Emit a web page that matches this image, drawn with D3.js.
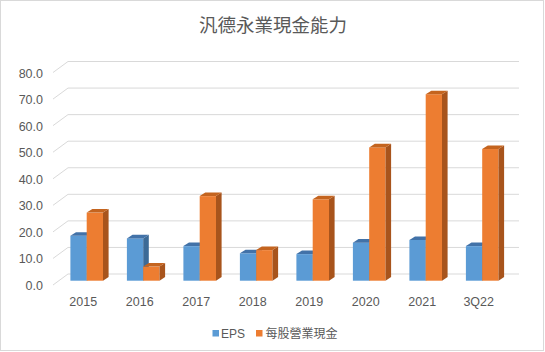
<!DOCTYPE html>
<html><head><meta charset="utf-8">
<script src="https://cdn.jsdelivr.net/npm/d3@7"></script>
<style>body{margin:0;background:#fff}svg{display:block}</style>
</head><body>
<svg id="c" width="545" height="352"></svg>
<script>
const categories = ["2015","2016","2017","2018","2019","2020","2021","3Q22"];
const seriesNames = ["EPS","每股營業現金"];
const eps = [16.9, 15.9, 13.0, 10.3, 10.0, 14.3, 15.3, 13.0];
const cashPerShare = [25.6, 5.3, 31.8, 11.5, 30.6, 50.1, 70.1, 49.5];
const yTicks = [0,10,20,30,40,50,60,70,80];

const colors = [
  {front:"#5B9BD5", top:"#4272A8", side:"#3C6A96"},
  {front:"#ED7D31", top:"#C4641F", side:"#A8541C"}
];
const font = "'Liberation Sans', Arial, sans-serif";
const cjk = "'Noto Sans CJK TC','Noto Sans CJK SC',sans-serif";

const svg = d3.select("#c");
svg.append("rect").attr("x",0.5).attr("y",0.5).attr("width",543).attr("height",350)
  .attr("fill","#fff").attr("stroke","#D9D9D9");

svg.append("text").attr("x",273).attr("y",32).attr("text-anchor","middle")
  .attr("font-family",cjk).attr("font-size",18.5).attr("fill","#595959").text("汎德永業現金能力");

// depth geometry
const wallLeft = 68, wallRight = 519, sideDx = -15, sideDy = 11;
const yBack = d3.scaleLinear().domain([0,80]).range([274,61.5]);
const yBar = d3.scaleLinear().domain([0,80]).range([280.7,280.7-212.8]);
const yLab = d3.scaleLinear().domain([0,80]).range([285,73.5]);

const g = svg.append("g");
yTicks.forEach(t=>{
  const yb = yBack(t);
  g.append("path").attr("d",`M${wallLeft+sideDx},${yb+sideDy}L${wallLeft},${yb}L${wallRight},${yb}`)
    .attr("fill","none").attr("stroke","#D9D9D9").attr("stroke-width",1);
  g.append("text").attr("x",43).attr("y",yLab(t)+4.5).attr("text-anchor","end")
    .attr("font-family",font).attr("font-size",12.5).attr("fill","#595959").text(t.toFixed(1));
});

const x0 = d3.scaleBand().domain(categories).range([58.45,510.45]);
const barW = 16.3;
const x1 = d3.scaleBand().domain(seriesNames).range([-barW, barW]);
const dx = 5.6, dy = -3.6;
const data = [eps, cashPerShare];

categories.forEach((c,i)=>{
  const cx = x0(c) + x0.bandwidth()/2;
  seriesNames.forEach((s,si)=>{
    const v = data[si][i];
    const x = cx + x1(s), w = x1.bandwidth();
    const yb = yBar(0), yt = yBar(v);
    const col = colors[si];
    g.append("rect").attr("x",x).attr("y",yt).attr("width",w).attr("height",yb-yt).attr("fill",col.front);
    g.append("path").attr("d",`M${x+w},${yb}L${x+w+dx},${yb+dy}L${x+w+dx},${yt+dy}L${x+w},${yt}Z`).attr("fill",col.side);
    g.append("path").attr("d",`M${x},${yt}L${x+dx},${yt+dy}L${x+w+dx},${yt+dy}L${x+w},${yt}Z`).attr("fill",col.top);
  });
  g.append("text").attr("x",cx-3.5).attr("y",306).attr("text-anchor","middle")
    .attr("font-family",font).attr("font-size",12.5).attr("fill","#595959").text(c);
});

// legend
const leg = svg.append("g");
const legItems = [{x:212.5, tx:221}, {x:256, tx:265.5}];
seriesNames.forEach((s,si)=>{
  leg.append("rect").attr("x",legItems[si].x).attr("y",330).attr("width",6.5).attr("height",6.5).attr("fill",colors[si].front);
  leg.append("text").attr("x",legItems[si].tx).attr("y",337.5)
    .attr("font-family", si===0?font:cjk).attr("font-size",12).attr("fill","#595959").text(s);
});
</script>
</body></html>
